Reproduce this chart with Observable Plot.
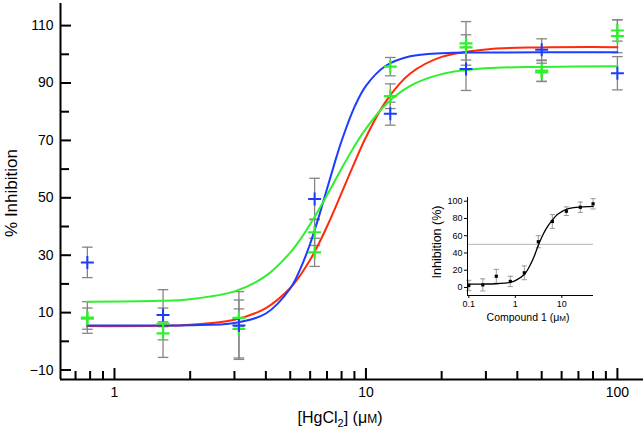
<!DOCTYPE html>
<html><head><meta charset="utf-8">
<script src="https://cdn.jsdelivr.net/npm/d3@7"></script>
<script src="https://cdn.jsdelivr.net/npm/@observablehq/plot@0.6"></script>
<style>
body{margin:0;background:#fff;}
#wrap{position:relative;width:644px;height:428px;overflow:hidden;}
#main{position:absolute;left:0;top:0;}
#inset{position:absolute;left:420px;top:190px;}
</style></head><body>
<div id="wrap"><div id="main"></div><div id="inset"></div></div>
<script>
// ---------- main chart data ----------
const conc = [0.78, 1.56, 3.125, 6.25, 12.5, 25, 50, 100];
const blueVals   = [27.5, 9.2, 5.5, 49.6, 79.3, 94.9, 101.6, 93.4];
const blueErr    = [5.3, 2.4, 11.8, 7.2, 4.0, 7.5, 3.8, 5.8];
const greenVals  = [8.3, 6.2, 4.3, 38.0, 95.7, 103.8, 94.3, 108.3];
const greenErr   = [5.5, 11.8, 10.1, 4.6, 3.2, 7.6, 3.7, 3.7];
const green2Vals = [7.9, 2.8, 8.2, 31.0, 85.4, 102.4, 93.7, 106.3];
const green2Err  = [3.7, 2.3, 3.1, 4.9, 4.3, 4.4, 3.2, 5.75];

// fitted curves
const curveConc = [0.78, 1.5, 2, 3, 4, 5, 5.5, 6, 6.5, 7, 7.5, 8, 9, 10, 12, 15, 20, 30, 50, 100];
const redCurve   = [5.3, 5.4, 5.8, 7.5, 11.6, 18.6, 23.2, 28.4, 34.1, 40.0, 45.9, 51.7, 62.2, 71.1, 83.6, 93.3, 99.1, 101.7, 102.4, 102.5];
const blueCurve  = [5.5, 5.5, 5.6, 6.4, 9.7, 18.4, 25.5, 34.0, 43.5, 53.1, 62.0, 69.8, 81.6, 89.0, 96.0, 99.3, 100.4, 100.6, 100.7, 100.7];
const greenCurve = [13.8, 14.1, 14.7, 17.4, 22.8, 30.9, 35.7, 40.8, 45.9, 50.9, 55.7, 60.2, 68.0, 74.1, 82.5, 89.0, 93.1, 95.1, 95.6, 95.8];

const yMajor = [-10, 10, 30, 50, 70, 90, 110];
const yMinor = [0, 20, 40, 60, 80, 100];
const xMajor = [1, 10, 100];
const xMinor = [0.7, 0.8, 0.9, 2, 3, 4, 5, 6, 7, 8, 9, 20, 30, 40, 50, 60, 70, 80, 90];

// ---------- inset data ----------
const insetConc = [0.1, 0.2, 0.39, 0.78, 1.56, 3.125, 6.25, 12.5, 25, 47];
const insetVals = [2.3, 3, 13, 7, 17, 53, 76.5, 88.4, 93, 97];
const insetErr  = [6, 7, 8, 6, 8, 7, 8, 5, 6, 6];
const insetCurveConc = [0.1, 0.2, 0.39, 0.78, 1, 1.56, 2, 2.5, 3.125, 4, 5, 6.25, 8, 10, 12.5, 18, 25, 47];
const insetCurve     = [4, 4, 4.3, 6, 8, 15, 24, 35, 49, 62, 71, 78, 84.5, 88, 90.5, 92.5, 93.3, 94];
const insetYTicks = [0, 20, 40, 60, 80, 100];
const insetXTicks = [0.1, 1, 10];

// ---------- helpers ----------
const capSymbol = {draw(ctx, size){ const r = Math.sqrt(size/Math.PI); ctx.moveTo(-r,0); ctx.lineTo(r,0); }};
const plusSymbol = {draw(ctx, size){ const r = Math.sqrt(size/Math.PI); ctx.moveTo(-r,0); ctx.lineTo(r,0); ctx.moveTo(0,-r); ctx.lineTo(0,r); }};
const rows = (vals, errs) => conc.map((c,i) => ({c, v: vals[i], e: errs[i]}));
const blueRows = rows(blueVals, blueErr);
const greenRows = rows(greenVals, greenErr);
const green2Rows = rows(green2Vals, green2Err);
const allRows = [...blueRows, ...greenRows, ...green2Rows];
const curveRows = (vals) => curveConc.map((c,i) => ({c, v: vals[i]}));
const fmt = d => d < 0 ? "\u2212" + Math.abs(d) : String(d);

const GRAY = "#858585";
const RED = "#ff2a0a", BLUE = "#1c3cff", GREEN = "#2ef02e";
const xDom = [0.61, 127], yDom = [-13.3, 117.7];

const main = Plot.plot({
  width: 644, height: 428,
  marginLeft: 60, marginRight: 1, marginTop: 3, marginBottom: 49,
  x: {type: "log", domain: xDom, label: null},
  y: {domain: yDom, label: null},
  style: {fontFamily: "Liberation Sans, Arial, sans-serif", fontSize: "14px", background: "white", color: "black"},
  marks: [
    // error bars
    Plot.ruleX(allRows, {x: "c", y1: d => d.v - d.e, y2: d => d.v + d.e, stroke: GRAY, strokeWidth: 1.3}),
    Plot.dot(allRows, {x: "c", y: d => d.v - d.e, symbol: capSymbol, r: 5.3, stroke: GRAY, fill: "none", strokeWidth: 1.3}),
    Plot.dot(allRows, {x: "c", y: d => d.v + d.e, symbol: capSymbol, r: 5.3, stroke: GRAY, fill: "none", strokeWidth: 1.3}),
    // fitted curves
    Plot.line(curveRows(redCurve), {x: "c", y: "v", stroke: RED, strokeWidth: 2, curve: "catmull-rom"}),
    Plot.line(curveRows(blueCurve), {x: "c", y: "v", stroke: BLUE, strokeWidth: 2, curve: "catmull-rom"}),
    Plot.line(curveRows(greenCurve), {x: "c", y: "v", stroke: GREEN, strokeWidth: 2, curve: "catmull-rom"}),
    // data crosses
    Plot.dot(green2Rows, {x: "c", y: "v", symbol: plusSymbol, r: 6.5, stroke: GREEN, fill: "none", strokeWidth: 2.2}),
    Plot.dot(greenRows, {x: "c", y: "v", symbol: plusSymbol, r: 6.5, stroke: GREEN, fill: "none", strokeWidth: 2.2}),
    Plot.dot(blueRows, {x: "c", y: "v", symbol: plusSymbol, r: 6.5, stroke: BLUE, fill: "none", strokeWidth: 2}),
    // axes
    Plot.ruleX([xDom[0]], {stroke: "black", strokeWidth: 2}),
    Plot.ruleY([yDom[0]], {stroke: "black", strokeWidth: 2}),
    Plot.axisY(yMajor, {tickSize: -11, tickPadding: 18, strokeWidth: 2, tickFormat: fmt, fontSize: 14, label: null}),
    Plot.axisY(yMinor, {tickSize: -9, strokeWidth: 2, tickFormat: () => "", label: null}),
    Plot.axisX(xMajor, {tickSize: -11, tickPadding: 19, strokeWidth: 2, tickFormat: d => String(d), fontSize: 14, label: null}),
    Plot.axisX(xMinor, {tickSize: -8, strokeWidth: 2, tickFormat: () => "", label: null})
  ]
});
document.getElementById("main").appendChild(main);

const ms = d3.select(main);
const yt = ms.append("text")
  .attr("transform", "translate(11,193) rotate(-90)")
  .attr("text-anchor", "middle").attr("dominant-baseline", "central")
  .attr("font-family", "Liberation Sans, Arial, sans-serif").attr("font-size", 17).attr("fill", "black");
yt.text("% Inhibition");
const xt = ms.append("text")
  .attr("x", 340).attr("y", 423).attr("text-anchor", "middle")
  .attr("font-family", "Liberation Sans, Arial, sans-serif").attr("font-size", 16).attr("fill", "black");
xt.append("tspan").text("[HgCl");
xt.append("tspan").attr("font-size", 11).attr("dy", 4).text("2");
xt.append("tspan").attr("dy", -4).text("] (\u03bc");
xt.append("tspan").attr("font-size", 12).text("M");
xt.append("tspan").text(")");

// ---------- inset ----------
const insetRows = insetConc.map((c,i) => ({c, v: insetVals[i], e: insetErr[i]}));
const insetCurveRows = insetCurveConc.map((c,i) => ({c, v: insetCurve[i]}));
const ixDom = [0.0937, 48], iyDom = [-9.3, 104.3];
const inset = Plot.plot({
  width: 180, height: 135,
  marginLeft: 47, marginRight: 7, marginTop: 7, marginBottom: 30,
  x: {type: "log", domain: ixDom, label: null},
  y: {domain: iyDom, label: null},
  style: {fontFamily: "Liberation Sans, Arial, sans-serif", fontSize: "9px", color: "black", background: "transparent"},
  marks: [
    Plot.ruleY([50], {stroke: "#b5b5b5", strokeWidth: 1}),
    Plot.ruleX(insetRows, {x: "c", y1: d => d.v - d.e, y2: d => d.v + d.e, stroke: "#999", strokeWidth: 1}),
    Plot.dot(insetRows, {x: "c", y: d => d.v - d.e, symbol: capSymbol, r: 2.6, stroke: "#999", fill: "none", strokeWidth: 1}),
    Plot.dot(insetRows, {x: "c", y: d => d.v + d.e, symbol: capSymbol, r: 2.6, stroke: "#999", fill: "none", strokeWidth: 1}),
    Plot.line(insetCurveRows, {x: "c", y: "v", stroke: "black", strokeWidth: 1.3, curve: "catmull-rom"}),
    Plot.dot(insetRows, {x: "c", y: "v", symbol: "square", r: 1.8, fill: "black"}),
    Plot.ruleX([ixDom[0]], {stroke: "black", strokeWidth: 1}),
    Plot.ruleY([iyDom[0]], {stroke: "black", strokeWidth: 1}),
    Plot.axisY(insetYTicks, {tickSize: 3, tickPadding: 2, fontSize: 9, label: null}),
    Plot.axisX(insetXTicks, {tickSize: 3, tickPadding: 2, fontSize: 9, tickFormat: d => String(d), label: null})
  ]
});
document.getElementById("inset").appendChild(inset);
const is = d3.select(inset);
is.append("text")
  .attr("transform", "translate(17,52) rotate(-90)")
  .attr("text-anchor", "middle").attr("dominant-baseline", "central")
  .attr("font-family", "Liberation Sans, Arial, sans-serif").attr("font-size", 12.5).attr("fill", "black")
  .text("Inhibition (%)");
const ct = is.append("text")
  .attr("x", 108).attr("y", 131).attr("text-anchor", "middle")
  .attr("font-family", "Liberation Sans, Arial, sans-serif").attr("font-size", 10.5).attr("fill", "black");
ct.append("tspan").text("Compound 1 (\u03bc");
ct.append("tspan").attr("font-size", 8).text("M");
ct.append("tspan").text(")");
</script>
</body></html>
